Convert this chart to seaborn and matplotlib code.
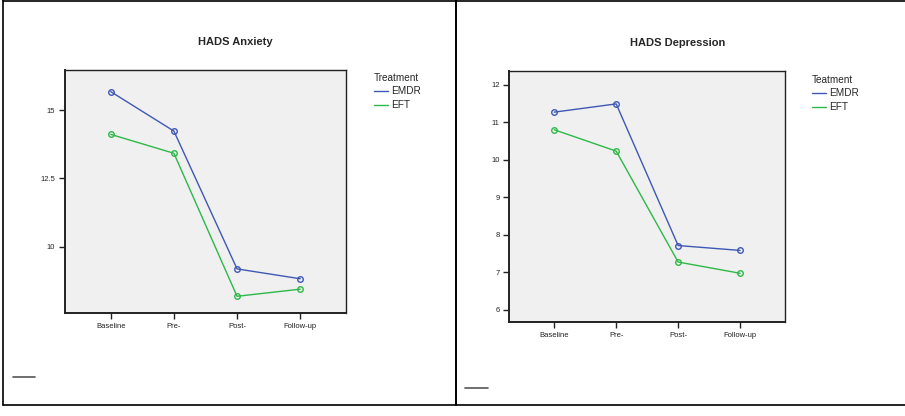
import numpy as np
import pandas as pd
import seaborn as sns
import matplotlib.pyplot as plt
from matplotlib.lines import Line2D

# === Data ===
TIMEPOINTS = ['Baseline', 'Pre-', 'Post-', 'Follow-up']
GROUPS     = ['EMDR', 'EFT']
EMDR_ANX   = [15.67, 14.23, 9.20, 8.84]
EFT_ANX    = [14.11, 13.42, 8.20, 8.46]
EMDR_DEP   = [11.27, 11.49, 7.71, 7.58]
EFT_DEP    = [10.80, 10.23, 7.27, 6.97]

COLORS = {'EMDR': '#3E58B4', 'EFT': '#2EB848'}


def long_df(emdr, eft):
    df = pd.DataFrame({'time': TIMEPOINTS * 2,
                       'score': emdr + eft,
                       'group': ['EMDR'] * 4 + ['EFT'] * 4})
    return df


sns.set_style('white')
plt.rcParams['font.family'] = ['Liberation Sans', 'DejaVu Sans']

fig = plt.figure(figsize=(9.05, 4.16), dpi=100)
ax1 = fig.add_axes([0.0718, 0.2476, 0.3105, 0.5841])
ax2 = fig.add_axes([0.5628, 0.2260, 0.3046, 0.6026])

panels = [
    (ax1, long_df(EMDR_ANX, EFT_ANX), (7.59, 16.46), [10, 12.5, 15], ['10', '12.5', '15']),
    (ax2, long_df(EMDR_DEP, EFT_DEP), (5.67, 12.36), [6, 7, 8, 9, 10, 11, 12],
     ['6', '7', '8', '9', '10', '11', '12']),
]

for ax, df, ylim, yt, ytl in panels:
    sns.pointplot(data=df, x='time', y='score', hue='group', order=TIMEPOINTS,
                  hue_order=GROUPS, palette=COLORS, errorbar=None, markers='o',
                  markersize=4, markerfacecolor='none', markeredgewidth=1,
                  linewidth=1, ax=ax, legend=False)
    ax.set_facecolor('#F0F0F0')
    ax.set_xlim(-0.725, 3.725)
    ax.set_ylim(*ylim)
    ax.set_yticks(yt)
    ax.set_yticklabels(ytl)
    ax.set_xlabel('')
    ax.set_ylabel('')
    ax.tick_params(axis='both', direction='out', length=4, width=1,
                   labelsize=5.5, colors='#222222', pad=3)
    ax.tick_params(left=True, bottom=True)
    for s in ax.spines.values():
        s.set_color('#222222')
        s.set_linewidth(1.0)
    ax.spines['left'].set_linewidth(1.4)
    ax.spines['bottom'].set_linewidth(1.4)

# titles
fig.text(235 / 905, 1 - 42 / 416, 'HADS Anxiety', ha='center', va='center',
         fontsize=8, fontweight='bold')
fig.text(678 / 905, 1 - 43 / 416, 'HADS Depression', ha='center', va='center',
         fontsize=8, fontweight='bold')

# legends
handles = [Line2D([0], [0], color=COLORS[g], lw=1) for g in GROUPS]
for ax, x, y, ttl in [(ax1, 374, 73, 'Treatment'), (ax2, 812, 75, 'Teatment')]:
    leg = ax.legend(handles, GROUPS, title=ttl, loc='upper left',
                    bbox_to_anchor=(x / 905, 1 - y / 416), bbox_transform=fig.transFigure,
                    frameon=False, fontsize=7.2, title_fontsize=7.2, handlelength=1.4,
                    handletextpad=0.35, labelspacing=0.35, borderpad=0, borderaxespad=0,
                    alignment='left')

# page borders / divider
W, H = 905, 416
def fline(x0, y0, x1, y1, **kw):
    fig.add_artist(Line2D([x0 / W, x1 / W], [1 - y0 / H, 1 - y1 / H], **kw))

fline(3, 0.5, 905, 0.5, color='black', lw=1.2)
fline(3, 0, 3, 405, color='black', lw=1.2)
fline(3, 405, 905, 405, color='black', lw=1.2)
fline(455.5, 0, 455.5, 405, color='black', lw=1.4)
fline(13, 377, 35, 377, color='#555555', lw=1.2)
fline(465, 388, 488, 388, color='#555555', lw=1.2)

fig.savefig('out.png', dpi=100)
